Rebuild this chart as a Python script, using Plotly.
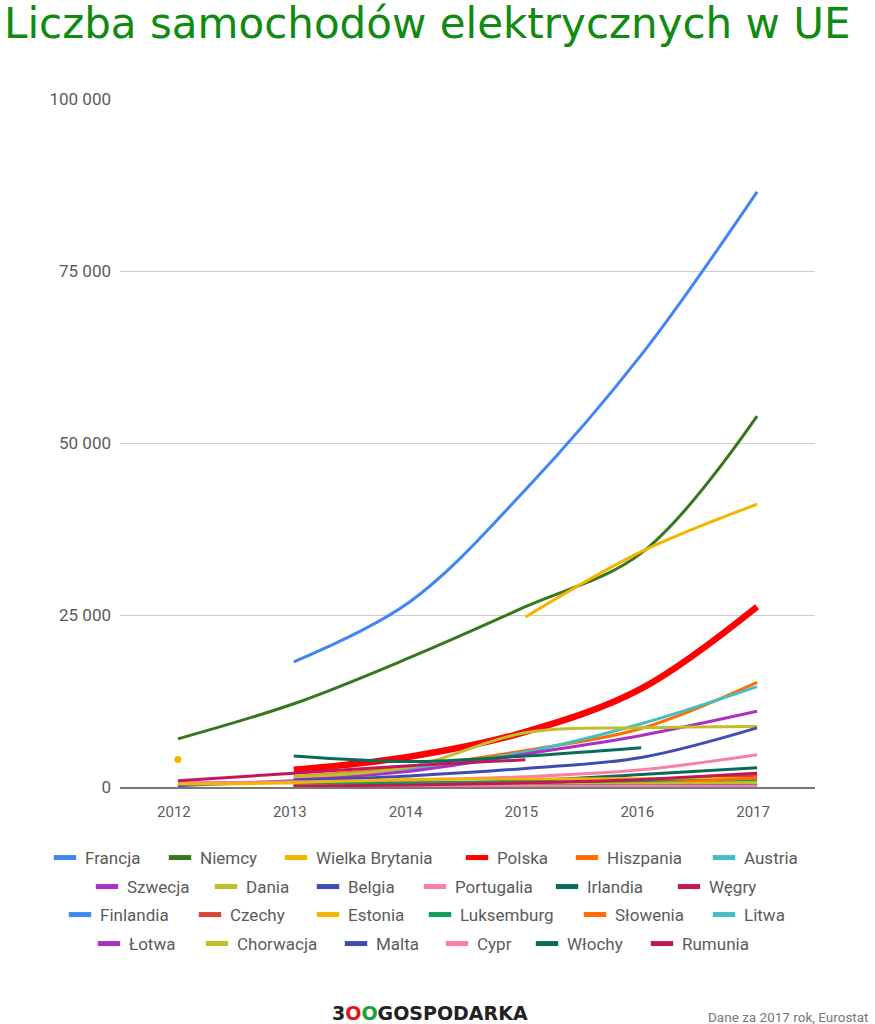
import plotly.graph_objects as go

years = [2012, 2013, 2014, 2015, 2016, 2017]

names = ["Francja", "Niemcy", "Wielka Brytania", "Polska", "Hiszpania", "Austria",
         "Szwecja", "Dania", "Belgia", "Portugalia", "Irlandia", "Węgry",
         "Finlandia", "Czechy", "Estonia", "Luksemburg", "Słowenia", "Litwa",
         "Łotwa", "Chorwacja", "Malta", "Cypr", "Włochy", "Rumunia"]

francja = [None, 18200, 26900, 43200, 62800, 86500]
niemcy = [7000, 12100, 18800, 26200, 34000, 53900]
wielka_brytania = [4000, None, None, 24700, 34200, 41100]
polska = [None, 2500, 4400, 8000, 14300, 26200]
hiszpania = [None, 1500, 2900, 5300, 8500, 15200]
austria = [None, 1300, 2700, 5100, 9200, 14600]
szwecja = [None, 1100, 2300, 4800, 7500, 11000]
dania = [None, 1500, 2900, 7900, 8600, 8800]
belgia = [200, 900, 1600, 2700, 4300, 8600]
portugalia = [600, 750, 1000, 1500, 2500, 4700]
irlandia = [None, 300, 500, 900, 1800, 2800]
wegry = [900, 2000, 3100, 3950, None, None]
finlandia = [None, 100, 200, 300, 450, 700]
czechy = [None, 200, 300, 500, 900, 1700]
estonia = [450, 600, 1100, 1150, 1200, 1250]
luksemburg = [None, 200, 600, 650, 800, 1000]
slowenia = [None, 100, 200, 300, 500, 1300]
litwa = [None, 50, 100, 200, 300, 450]
lotwa = [None, 50, 100, 150, 200, 250]
chorwacja = [None, 100, 200, 300, 450, 650]
malta = [None, 50, 80, 100, 150, 200]
cypr = [None, 50, 60, 80, 100, 150]
wlochy = [None, 4500, 3700, 4500, 5700, None]
rumunia = [None, 100, 300, 600, 1100, 2000]

series = [francja, niemcy, wielka_brytania, polska, hiszpania, austria,
          szwecja, dania, belgia, portugalia, irlandia, wegry,
          finlandia, czechy, estonia, luksemburg, slowenia, litwa,
          lotwa, chorwacja, malta, cypr, wlochy, rumunia]

y_ticks = [0, 25000, 50000, 75000, 100000]

# styles
colors = ["#4285F4", "#38761D", "#F4B400", "#FF0000", "#FF6D01", "#46BDC6",
          "#AB30C4", "#BFBF2A", "#3D4DB3", "#F77FAB", "#0B6B5B", "#C2185B",
          "#4285F4", "#DB4437", "#F4B400", "#0F9D58", "#FF6D01", "#46BDC6",
          "#AB30C4", "#BFBF2A", "#3D4DB3", "#F77FAB", "#0B6B5B", "#C2185B"]
widths = [3] * 24
widths[3] = 6.5

# legend layout (pixel positions of each legend entry, 4 rows of 6)
row_y = [858, 887, 915, 944]
legend_left_px = [45, 160, 276, 457, 567, 704,
                  87, 206, 308, 415, 547, 669,
                  60, 190, 308, 420, 575, 704,
                  89, 197, 336, 437, 527, 642]

W, H = 875, 1024
PLOT_TOP, PLOT_BOTTOM, PLOT_LEFT, PLOT_RIGHT = 99, 787, 120, 815
PH = PLOT_BOTTOM - PLOT_TOP
PW = PLOT_RIGHT - PLOT_LEFT


def py(pix):
    return (PLOT_BOTTOM - pix) / PH


def px(pix):
    return (pix - PLOT_LEFT) / PW


fig = go.Figure()
for i, (name, vals) in enumerate(zip(names, series)):
    fig.add_trace(go.Scatter(
        x=years, y=vals, mode="lines", name=name, showlegend=False,
        line=dict(color=colors[i], width=widths[i], shape="spline", smoothing=1),
        connectgaps=False, hoverinfo="x+y+name"))
    iso_x, iso_y = [], []
    for k, v in enumerate(vals):
        if v is None:
            continue
        prev_none = k == 0 or vals[k - 1] is None
        next_none = k == len(vals) - 1 or vals[k + 1] is None
        if prev_none and next_none:
            iso_x.append(years[k])
            iso_y.append(v)
    if iso_x:
        fig.add_trace(go.Scatter(
            x=iso_x, y=iso_y, mode="markers", showlegend=False, name=name,
            marker=dict(color=colors[i], size=7)))

legends = {}
for i, name in enumerate(names):
    lid = "legend" if i == 0 else f"legend{i + 1}"
    fig.add_trace(go.Scatter(
        x=[None], y=[None], mode="markers", name=name,
        legend=lid, showlegend=True, hoverinfo="skip",
        marker=dict(symbol="line-ew", size=16, color=colors[i],
                    line=dict(color=colors[i], width=5))))
    legends[lid] = dict(orientation="h", xref="container", x=legend_left_px[i] / W,
                        xanchor="left", yref="container", y=1 - row_y[i // 6] / H,
                        yanchor="middle", bgcolor="rgba(0,0,0,0)", borderwidth=0,
                        font=dict(family="Roboto", size=17, color="#5b5b5b"),
                        itemwidth=30)

fig.update_layout(
    width=W, height=H,
    margin=dict(l=PLOT_LEFT, r=W - PLOT_RIGHT, t=PLOT_TOP, b=H - PLOT_BOTTOM),
    plot_bgcolor="white", paper_bgcolor="white",
    separators=", ",
    showlegend=True,
    xaxis=dict(range=[2011.5, 2017.5], tickvals=years, ticktext=[str(y) for y in years],
               showgrid=False, zeroline=False, showline=True, linecolor="#777777", linewidth=2,
               ticks="", ticklabelstandoff=10, ticklabelshift=-4,
               tickfont=dict(family="Roboto", size=15, color="#5b5b5b")),
    yaxis=dict(range=[0, 100000], tickvals=y_ticks, tickformat=",d",
               showgrid=True, gridcolor="#cccccc", gridwidth=1, zeroline=False,
               showline=False, ticks="", ticklabelstandoff=8,
               tickfont=dict(family="Roboto", size=17, color="#5b5b5b")),
    annotations=[
        dict(text="Liczba samochodów elektrycznych w UE", xref="paper", yref="paper",
             x=px(2), y=py(-3), xanchor="left", yanchor="top", showarrow=False,
             font=dict(family="DejaVu Sans", size=42, color="#118A11")),
        dict(text="<b>3<span style='color:#E0161E'>O</span><span style='color:#13A538'>O</span>GOSPODARKA</b>",
             xref="paper", yref="paper", x=px(430), y=py(1013),
             xanchor="center", yanchor="middle", showarrow=False,
             font=dict(family="DejaVu Sans", size=19, color="#222222")),
        dict(text="Dane za 2017 rok, Eurostat", xref="paper", yref="paper",
             x=px(871), y=py(1017), xanchor="right", yanchor="middle",
             showarrow=False, font=dict(family="Roboto", size=13.5, color="#777777")),
    ],
    **legends,
)

fig.write_html("out.html", config={"displayModeBar": False},
               post_script="document.body.style.margin='0';")
